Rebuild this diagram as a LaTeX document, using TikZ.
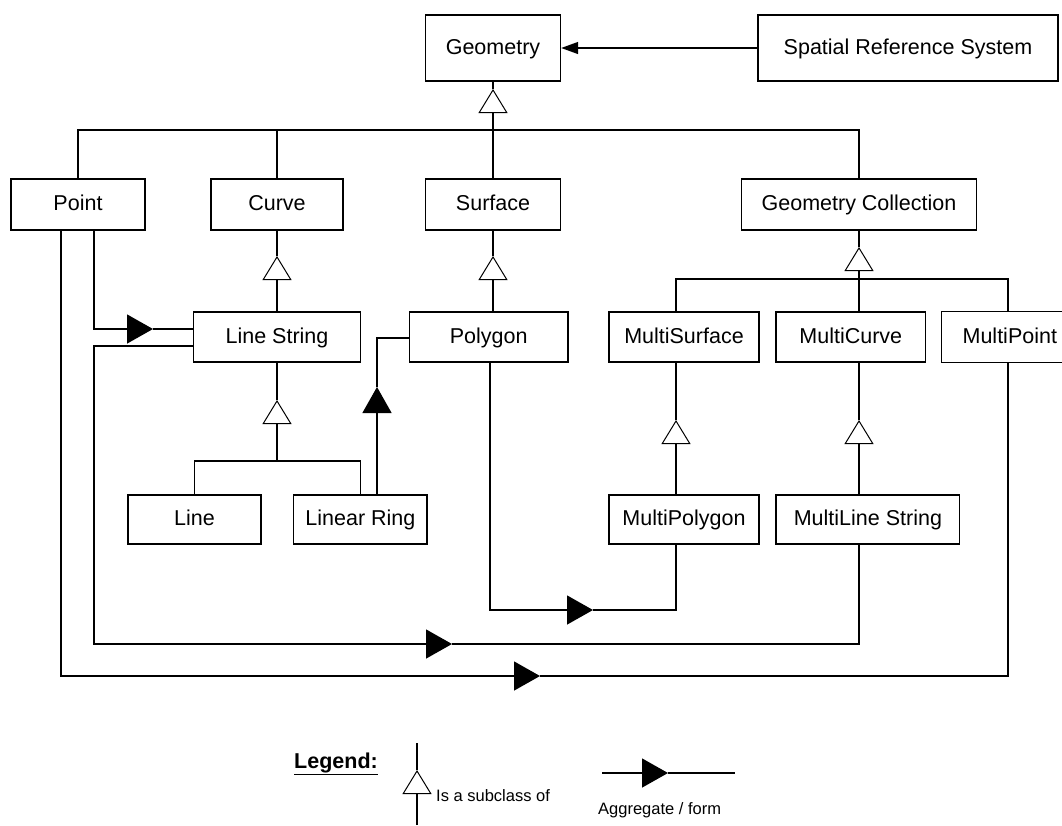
\documentclass[tikz,border=0pt]{standalone}
\usepackage{fontspec}
\setmainfont{Liberation Sans}
\usetikzlibrary{arrows.meta}
\begin{document}
\begin{tikzpicture}[x=1pt,y=-1pt,
  box/.style={draw, line width=1.4pt, inner sep=0pt, minimum height=50pt,
    text height=15.5pt, text depth=3pt, font=\fontsize{21.5}{25}\selectfont},
  conn/.style={line width=1.4pt},
  isa/.style={conn, -{Triangle[open, length=24pt, width=29pt, line width=1pt]}},
  agg/.style={conn, -{Triangle[length=26pt, width=29pt]}},
  smallagg/.style={conn, -{Triangle[length=17pt, width=12pt]}},
  legendtext/.style={font=\fontsize{16.5}{19}\selectfont, inner sep=0pt}]
\useasboundingbox (0,0) rectangle (1062,825);

% class boxes
\node[box, minimum width=135pt, minimum height=66pt] (geom) at (493,48) {Geometry};
\node[box, minimum width=300pt, minimum height=66pt] (srs) at (908,48) {Spatial Reference System};
\node[box, minimum width=134pt, minimum height=51pt] (nPoint) at (78,204.5) {Point};
\node[box, minimum width=132pt, minimum height=51pt] (nCurve) at (277,204.5) {Curve};
\node[box, minimum width=135pt, minimum height=51pt] (nSurface) at (493,204.5) {Surface};
\node[box, minimum width=234.5pt, minimum height=51pt] (nGC) at (859,204.5) {Geometry Collection};
\node[box, minimum width=166.5pt] (nLS) at (277,337) {Line String};
\node[box, minimum width=158.6pt] (nPolygon) at (488.7,337) {Polygon};
\node[box, minimum width=150pt] (nMSurf) at (684,337) {MultiSurface};
\node[box, minimum width=149.5pt] (nMCurve) at (850.8,337) {MultiCurve};
% the MultiPoint box runs into the right margin, so its right side is not drawn
\node[box, draw=none, minimum width=120pt, text width=110pt, align=right] (nMPoint) at (1002,337) {MultiPoint};
\draw[line width=1.4pt] (nMPoint.north east) -- (nMPoint.north west) -- (nMPoint.south west) -- (nMPoint.south east);
\node[box, minimum width=133pt, minimum height=49pt] (nLine) at (194.5,519.5) {Line};
\node[box, minimum width=133.3pt, minimum height=49pt] (nLRing) at (360.4,519.5) {Linear Ring};
\node[box, minimum width=150pt, minimum height=49pt] (nMPoly) at (684,519.5) {MultiPolygon};
\node[box, minimum width=183.7pt, minimum height=49pt] (nMLine) at (867.9,519.5) {MultiLine String};

% junction points
\coordinate (geoApex) at (493,89);
\coordinate (geoBus) at (493,130);
\coordinate (curveApex) at (277,256);
\coordinate (surfApex) at (493,256);
\coordinate (gcApex) at (859,247);
\coordinate (gcBus) at (859,279);
\coordinate (msDrop) at (676,279);
\coordinate (mpDrop) at (1008,279);
\coordinate (msApex) at (676,420);
\coordinate (mcApex) at (859,420);
\coordinate (lsApex) at (277,400);
\coordinate (lsBus) at (277,461);

% spatial reference system
\draw[smallagg] (srs.west) -- (geom.east);

% subclasses of Geometry
\draw[isa] (nSurface.north) -- (geoApex);
\draw[conn] (geoApex) -- (geom.south);
\draw[conn] (nPoint.north) |- (geoBus) -| (nGC.north);
\draw[conn] (nCurve.north) -- (nCurve.north |- geoBus);

% Curve / Surface
\draw[isa] (nLS.north) -- (curveApex);
\draw[conn] (curveApex) -- (nCurve.south);
\draw[isa] (nPolygon.north -| surfApex) -- (surfApex);
\draw[conn] (surfApex) -- (nSurface.south -| surfApex);

% Geometry Collection
\draw[isa] (gcBus) -- (gcApex);
\draw[conn] (gcApex) -- (nGC.south);
\draw[conn] (nMSurf.north -| msDrop) -- (msDrop) -- (mpDrop) -- (nMPoint.north -| mpDrop);
\draw[conn] (nMCurve.north -| gcBus) -- (gcBus);
\draw[isa] (nMPoly.north -| msApex) -- (msApex);
\draw[conn] (msApex) -- (nMSurf.south -| msApex);
\draw[isa] (nMLine.north -| mcApex) -- (mcApex);
\draw[conn] (mcApex) -- (nMCurve.south -| mcApex);

% Line String
\draw[isa] (lsBus) -- (lsApex);
\draw[conn] (lsApex) -- (nLS.south);
\draw[conn] (nLine.north) |- (lsBus) -| (nLRing.north);

% aggregations
\coordinate (pLink) at (94,329);
\coordinate (pTip) at (153,329);
\draw[agg] (nPoint.south -| pLink) |- (pTip);
\draw[conn] (pTip) -- (nLS.west |- pTip);

\coordinate (pOut) at (61,676);
\coordinate (mpTip) at (540,676);
\draw[agg] (nPoint.south -| pOut) |- (mpTip);
\draw[conn] (mpTip) -| (mpDrop |- nMPoint.south);

\coordinate (lsCorner) at (94,346);
\coordinate (mlTip) at (452,644);
\draw[agg] (nLS.west |- lsCorner) -- (lsCorner) |- (mlTip);
\draw[conn] (mlTip) -| (gcBus |- nMLine.south);

\coordinate (lrCorner) at (377,338);
\coordinate (lrTip) at (377,387);
\draw[agg] (nLRing.north -| lrCorner) -- (lrTip);
\draw[conn] (lrTip) |- (nPolygon.west |- lrCorner);

\coordinate (pgCorner) at (490,610);
\coordinate (mpolyTip) at (593,610);
\draw[agg] (nPolygon.south -| pgCorner) |- (mpolyTip);
\draw[conn] (mpolyTip) -| (msDrop |- nMPoly.south);

% legend
\node[anchor=base west, inner sep=0pt, font=\fontsize{21.5}{25}\selectfont\bfseries] (lgTitle) at (294,768) {\underline{Legend:}};
\coordinate (lgTop) at (417,743);
\coordinate (lgApex) at (417,770);
\coordinate (lgBot) at (417,825);
\draw[conn] (lgTop) -- (lgApex);
\draw[isa] (lgBot) -- (lgApex);
\node[legendtext, anchor=base west] (lgIsa) at (436,801.5) {Is a subclass of};
\coordinate (laL) at (602,773);
\coordinate (laTip) at (668,773);
\coordinate (laR) at (735,773);
\draw[agg] (laL) -- (laTip);
\draw[conn] (laTip) -- (laR);
\node[legendtext, anchor=base west] (lgAgg) at (598,814) {Aggregate / form};
\end{tikzpicture}
\end{document}
